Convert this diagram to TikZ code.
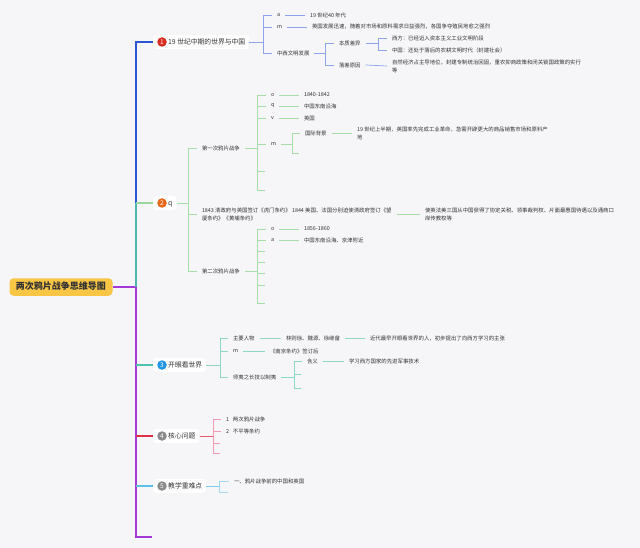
\documentclass[tikz,border=0pt]{standalone}
\usepackage{fontspec}
\setmainfont{Noto Sans CJK SC}

\definecolor{bgcol}{HTML}{F6F6F8}
\definecolor{rootcol}{HTML}{F8C545}
\definecolor{textcol}{HTML}{333333}
\definecolor{spineblue}{HTML}{2B57D6}
\definecolor{spineteal}{HTML}{4DB6AC}
\definecolor{spinepurple}{HTML}{A33BD6}
\definecolor{lineone}{HTML}{8FA3EA}
\definecolor{linetwo}{HTML}{A6DDA8}
\definecolor{branchtwo}{HTML}{9CD8A0}
\definecolor{linethree}{HTML}{8ED6C6}
\definecolor{branchthree}{HTML}{4FC1B0}
\definecolor{linefour}{HTML}{F29AB2}
\definecolor{branchfour}{HTML}{E0304C}
\definecolor{linefive}{HTML}{A6D8F2}
\definecolor{branchfive}{HTML}{5BC0EB}
\definecolor{badgered}{HTML}{D92B1E}
\definecolor{badgeorange}{HTML}{E8681A}
\definecolor{badgeblue}{HTML}{2196E8}
\definecolor{badgegrey}{HTML}{8A8A8A}

\tikzset{
  leaf/.style={anchor=west, inner sep=1pt, outer xsep=4pt, align=left,
    text=textcol, font=\fontsize{5.4}{8}\selectfont},
  topic/.style={anchor=west, fill=white, rounded corners=3pt, inner xsep=4pt,
    inner ysep=3.5pt, text height=5.5pt, text depth=1.2pt, text=textcol,
    font=\fontsize{6.8}{8}\selectfont},
  badge/.style={circle, inner sep=0pt, minimum size=9.5pt, text=white,
    font=\fontsize{6.5}{7}\selectfont},
  rootbox/.style={fill=rootcol, rounded corners=4pt, inner xsep=6.5pt,
    inner ysep=4.5pt, text height=7pt, text depth=1.5pt, text=textcol,
    font=\fontsize{9}{10}\selectfont\bfseries},
}

\begin{document}
\begin{tikzpicture}[x=1pt,y=-1pt]
    \useasboundingbox (0,0) rectangle (640,548);
    \fill[bgcol] (0,0) rectangle (640,548);

    % ROOT AND SPINE
    \node[rootbox] (root) at (61,287) {两次鸦片战争思维导图};
    \coordinate (sp1) at (136,42);
    \coordinate (sp2) at (136,203);
    \coordinate (sp0) at (136,287);
    \coordinate (sp3) at (136,365);
    \coordinate (sp4) at (136,436);
    \coordinate (sp5) at (136,486);
    \coordinate (spend) at (136,537);
    \coordinate (endtick) at (152,537);

    \node[topic] (t1) at (153,42) {\hspace*{11pt}19 世纪中期的世界与中国};
    \node[topic] (t2) at (153,203) {\hspace*{11pt}q};
    \node[topic] (t3) at (153,365) {\hspace*{11pt}开眼看世界};
    \node[topic] (t4) at (153,436) {\hspace*{11pt}核心问题};
    \node[topic] (t5) at (153,486) {\hspace*{11pt}教学重难点};

    \node[badge, fill=badgered] (d1) at (162,42) {1};
    \node[badge, fill=badgeorange] (d2) at (162,203) {2};
    \node[badge, fill=badgeblue] (d3) at (162,365) {3};
    \node[badge, fill=badgegrey] (d4) at (162,436) {4};
    \node[badge, fill=badgegrey] (d5) at (162,486) {5};

    \draw[spinepurple, line width=1.3pt] (root.east) -- (sp0);
    \draw[spineblue, line width=1.3pt] (t1.west) -- (sp1) -- (sp2);
    \draw[spineteal, line width=1.3pt] (sp2) -- (sp0);
    \draw[spinepurple, line width=1.3pt] (sp0) -- (spend) -- (endtick);
    \draw[branchtwo, line width=1.1pt] (sp2) -- (t2.west);
    \draw[branchthree, line width=1.1pt] (sp3) -- (t3.west);
    \draw[branchfour, line width=1.1pt] (sp4) -- (t4.west);
    \draw[branchfive, line width=1.1pt] (sp5) -- (t5.west);

    % BRANCH 1
    \coordinate (k1) at (263,42);
    \node[leaf] (a1) at (272,15) {a};
    \node[leaf] (m1) at (272,27) {m};
    \node[leaf] (z1) at (272,53) {中西文明发展};
    \node[leaf] (y1) at (305,15) {19 世纪40 年代};
    \node[leaf] (y2) at (307,27) {英国发展迅速，随着对市场和原料需求日益强烈，各国争夺殖民地愈之强烈};
    \coordinate (k2) at (325,53);
    \node[leaf] (b1) at (334,43) {本质差异};
    \node[leaf] (b2) at (334,65) {落差原因};
    \coordinate (k3) at (378,43);
    \node[leaf] (c1) at (387,38) {西方：已经迈入资本主义工业文明阶段};
    \node[leaf] (c2) at (387,50) {中国：还处于落后的农耕文明时代（封建社会）};
    \node[leaf] (c3) at (387,66) {自然经济占主导地位，封建专制统治回固，重农抑商政策和闭关锁国政策的实行\\等};

    \begin{scope}[lineone, line width=0.7pt]
        \draw (t1.east) -- (k1);
        \foreach \c in {a1,m1,z1}
            \draw (k1) |- (\c.west);
        \draw (a1.east) -- (y1.west);
        \draw (m1.east) -- (y2.west);
        \draw (z1.east) -- (k2);
        \foreach \c in {b1,b2}
            \draw (k2) |- (\c.west);
        \draw (b1.east) -- (k3);
        \foreach \c in {c1,c2}
            \draw (k3) |- (\c.west);
        \draw (b2.east) -- (c3.west);
    \end{scope}

    % BRANCH 2
    \coordinate (k4) at (188,203);
    \node[leaf] (w1) at (197,148) {第一次鸦片战争};
    \node[leaf] (w2) at (197,214) {1843 清政府与英国签订《虎门条约》 1844 美国、法国分别迫使清政府签订《望\\厦条约》《黄埔条约》};
    \node[leaf] (w3) at (197,271) {第二次鸦片战争};
    \node[leaf] (w4) at (420,214) {使英法美三国从中国获得了协定关税、领事裁判权、片面最惠国待遇以及通商口\\岸传教权等};

    \coordinate (k5) at (257,148);
    \node[leaf] (f1) at (266,95) {o};
    \node[leaf] (f2) at (266,106) {q};
    \node[leaf] (f3) at (266,118) {v};
    \node[leaf] (f4) at (266,144) {m};
    \coordinate (f5) at (265,171);
    \coordinate (f6) at (265,190);
    \node[leaf] (g1) at (299,95) {1840-1842};
    \node[leaf] (g2) at (299,106) {中国东南沿海};
    \node[leaf] (g3) at (299,118) {英国};
    \coordinate (k6) at (292,144);
    \node[leaf] (h1) at (300,133) {国际背景};
    \coordinate (h3) at (299,153);
    \node[leaf] (h2) at (352,133) {19 世纪上半期，英国率先完成工业革命，急需开辟更大的商品销售市场和原料产\\地};

    \coordinate (k7) at (257,271);
    \node[leaf] (p1) at (266,229) {o};
    \node[leaf] (p2) at (266,240) {a};
    \node[leaf] (q1) at (299,229) {1856-1860};
    \node[leaf] (q2) at (299,240) {中国东南沿海、京津附近};
    \coordinate (p3) at (265,251);
    \coordinate (p4) at (265,262);
    \coordinate (p5) at (265,273);
    \coordinate (p6) at (265,285);
    \coordinate (p7) at (265,303);

    \begin{scope}[linetwo, line width=0.7pt]
        \draw (t2.east) -- (k4);
        \foreach \c in {w1,w2,w3}
            \draw (k4) |- (\c.west);
        \draw (w2.east) -- (w4.west);
        \draw (w1.east) -- (k5);
        \foreach \c in {f1.west,f2.west,f3.west,f4.west,f5,f6}
            \draw (k5) |- (\c);
        \draw (f1.east) -- (g1.west);
        \draw (f2.east) -- (g2.west);
        \draw (f3.east) -- (g3.west);
        \draw (f4.east) -- (k6);
        \foreach \c in {h1.west,h3}
            \draw (k6) |- (\c);
        \draw (h1.east) -- (h2.west);
        \draw (w3.east) -- (k7);
        \foreach \c in {p1.west,p2.west,p3,p4,p5,p6,p7}
            \draw (k7) |- (\c);
        \draw (p1.east) -- (q1.west);
        \draw (p2.east) -- (q2.west);
    \end{scope}

    % BRANCH 3
    \coordinate (k8) at (220,365);
    \node[leaf] (r1) at (228,338) {主要人物};
    \node[leaf] (r2) at (228,351) {m};
    \node[leaf] (r3) at (228,377) {师夷之长技以制夷};
    \node[leaf] (s1) at (281,338) {林则徐、魏源、徐继畲};
    \node[leaf] (s2) at (365,338) {近代最早开眼看世界的人，初步提出了向西方学习的主张};
    \node[leaf] (s3) at (265,351) {《南京条约》签订后};
    \coordinate (k9) at (294,377);
    \node[leaf] (u1) at (302,361) {含义};
    \coordinate (u3) at (301,374);
    \coordinate (u4) at (301,388);
    \node[leaf] (u2) at (344,361) {学习西方国家的先进军事技术};

    \begin{scope}[linethree, line width=0.7pt]
        \draw (t3.east) -- (k8);
        \foreach \c in {r1,r2,r3}
            \draw (k8) |- (\c.west);
        \draw (r1.east) -- (s1.west);
        \draw (s1.east) -- (s2.west);
        \draw (r2.east) -- (s3.west);
        \draw (r3.east) -- (k9);
        \foreach \c in {u1.west,u3,u4}
            \draw (k9) |- (\c);
        \draw (u1.east) -- (u2.west);
    \end{scope}

    % BRANCH 4
    \coordinate (k10) at (213,436);
    \node[leaf] (v1) at (221,419) {1\hspace{4pt}两次鸦片战争};
    \node[leaf] (v2) at (221,431) {2\hspace{4pt}不平等条约};
    \coordinate (v3) at (220,443);
    \coordinate (v4) at (220,453);

    \draw[branchfour!80, line width=0.8pt] (t4.east) -- (k10);
    \foreach \c in {v1.west,v2.west,v3,v4}
        \draw[linefour, line width=0.7pt] (k10) |- (\c);

    % BRANCH 5
    \coordinate (k11) at (219,486);
    \node[leaf] (x1) at (229,481) {一、鸦片战争前的中国和英国};
    \coordinate (x2) at (228,492);

    \draw[branchfive!80, line width=0.8pt] (t5.east) -- (k11);
    \foreach \c in {x1.west,x2}
        \draw[linefive, line width=0.7pt] (k11) |- (\c);
\end{tikzpicture}
\end{document}
